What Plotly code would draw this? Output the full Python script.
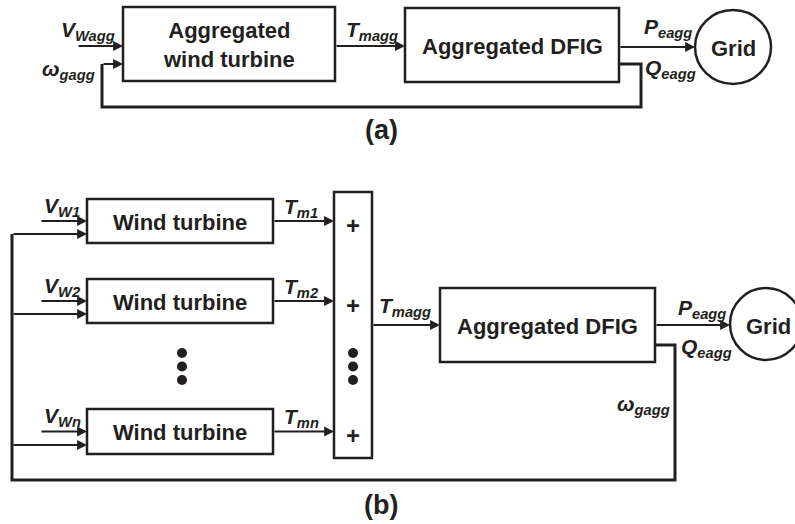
import plotly.graph_objects as go

# ---------------- content (text / data) ----------------
block_a_labels = ["Aggregated<br>wind turbine", "Aggregated DFIG"]
turbine_labels = ["Wind turbine", "Wind turbine", "Wind turbine"]
wind_inputs = ["W1", "W2", "Wn"]
torque_outputs = ["m1", "m2", "mn"]
sum_signs = ["+", "+", "+"]
grid_label = "Grid"
panel_labels = ["(a)", "(b)"]
dot_count = 3

# ---------------- geometry (pixel coordinates of the page) ----------------
W, H = 795, 524
FONT = "Liberation Sans, Arial, sans-serif"
BLACK = "#231f20"

# panel (a)
a_wt = (123, 7, 335, 81)
a_dfig = (405, 8, 619, 82)
a_grid = (695, 10, 771, 84)
a_y_in1, a_y_in2 = 46, 64
a_fb_y, a_fb_x_left, a_fb_x_right = 107, 102, 641

# panel (b)
b_wt_x = (87, 273)
b_wt_y = [(199, 243), (279, 323), (409, 454)]
b_sum = (334, 192, 372, 458)
b_dfig = (440, 288, 655, 362)
b_grid = (730, 288, 802, 360)
b_fb_x_left, b_fb_x_right, b_fb_y = 12, 675, 480
b_out_y, b_q_y = 325, 345
b_dot_y = [353, 366.5, 380]
b_dot_x = [182, 353]

shapes = []
annotations = []


def rect(b, w=2.5):
    shapes.append(dict(type="rect", xref="x", yref="y", x0=b[0], y0=b[1], x1=b[2], y1=b[3],
                       line=dict(color=BLACK, width=w), fillcolor="rgba(0,0,0,0)"))


def circle(b, w=2.5):
    shapes.append(dict(type="circle", xref="x", yref="y", x0=b[0], y0=b[1], x1=b[2], y1=b[3],
                       line=dict(color=BLACK, width=w)))


def path(pts, w=3):
    d = "M " + " L ".join(f"{x},{y}" for x, y in pts)
    shapes.append(dict(type="path", xref="x", yref="y", path=d, line=dict(color=BLACK, width=w)))


def arrow(x0, y0, x1, y1, w=1.8):
    annotations.append(dict(x=x1, y=y1, ax=x0, ay=y0, xref="x", yref="y", axref="x", ayref="y",
                            text="", showarrow=True, arrowhead=2, arrowsize=1.1, arrowwidth=w,
                            arrowcolor=BLACK, standoff=0, startstandoff=0))


def text(x, y, t, size=22, bold=True, italic=False):
    s = t
    if italic:
        s = f"<i>{s}</i>"
    if bold:
        s = f"<b>{s}</b>"
    annotations.append(dict(x=x, y=y, xref="x", yref="y", text=s, showarrow=False,
                            xanchor="center", yanchor="middle",
                            font=dict(family=FONT, size=size, color=BLACK)))


def var(x, y, main, sub, size=21):
    text(x, y, f"{main}<sub>{sub}</sub>", size=size, bold=True, italic=True)


# ---------- panel (a) ----------
rect(a_wt)
rect(a_dfig)
circle(a_grid)
text((a_wt[0] + a_wt[2]) / 2, (a_wt[1] + a_wt[3]) / 2 + 1, block_a_labels[0])
text((a_dfig[0] + a_dfig[2]) / 2, (a_dfig[1] + a_dfig[3]) / 2 + 1, block_a_labels[1])
text((a_grid[0] + a_grid[2]) / 2, (a_grid[1] + a_grid[3]) / 2 + 1, grid_label)
arrow(77, a_y_in1, a_wt[0], a_y_in1)
arrow(a_fb_x_left, a_y_in2, a_wt[0], a_y_in2)
arrow(a_wt[2], a_y_in1, a_dfig[0], a_y_in1)
arrow(a_dfig[2], 47, a_grid[0], 47)
path([(a_dfig[2], a_y_in2), (a_fb_x_right, a_y_in2), (a_fb_x_right, a_fb_y),
      (a_fb_x_left, a_fb_y), (a_fb_x_left, a_y_in2)])
var(88, 31, "V", "Wagg")
var(68, 70, "ω", "gagg")
var(372, 31, "T", "magg")
var(668, 28, "P", "eagg")
var(670, 69, "Q", "eagg")
text(381, 130, panel_labels[0], size=27)

# ---------- panel (b) ----------
for i, (y0, y1) in enumerate(b_wt_y):
    rect((b_wt_x[0], y0, b_wt_x[1], y1))
    text((b_wt_x[0] + b_wt_x[1]) / 2, (y0 + y1) / 2 + 1, turbine_labels[i])
    yin = y0 + 0.5 * (y1 - y0)
    yfb = y1 - 9
    arrow(40, yin, b_wt_x[0], yin)
    arrow(b_fb_x_left, yfb, b_wt_x[0], yfb)
    arrow(b_wt_x[1], yin, b_sum[0], yin)
    var(62, y0 + 8, "V", wind_inputs[i])
    var(301, y0 + 9, "T", torque_outputs[i])
    text((b_sum[0] + b_sum[2]) / 2, yin + 4, sum_signs[i], size=24)

rect(b_sum)
rect(b_dfig)
circle(b_grid)
text((b_dfig[0] + b_dfig[2]) / 2, (b_dfig[1] + b_dfig[3]) / 2 + 1, block_a_labels[1])
text(768, b_out_y + 1, grid_label)
arrow(b_sum[2], b_out_y, b_dfig[0], b_out_y)
arrow(b_dfig[2], b_out_y, b_grid[0], b_out_y)
path([(b_dfig[2], b_q_y), (b_fb_x_right, b_q_y), (b_fb_x_right, b_fb_y),
      (b_fb_x_left, b_fb_y), (b_fb_x_left, b_wt_y[0][1] - 9)])
var(405, 307, "T", "magg")
var(702, 309, "P", "eagg")
var(706, 348, "Q", "eagg")
var(643, 405, "ω", "gagg")
text(381, 505, panel_labels[1], size=27)

fig = go.Figure()
for dx in b_dot_x:
    fig.add_trace(go.Scatter(x=[dx] * dot_count, y=b_dot_y, mode="markers",
                             marker=dict(color=BLACK, size=10), hoverinfo="skip", showlegend=False))

fig.update_layout(
    width=W, height=H, margin=dict(l=0, r=0, t=0, b=0),
    plot_bgcolor="white", paper_bgcolor="white",
    shapes=shapes, annotations=annotations, showlegend=False,
    xaxis=dict(range=[0, W], visible=False, fixedrange=True),
    yaxis=dict(range=[H, 0], visible=False, fixedrange=True),
)
fig.write_html("out.html", config={"displayModeBar": False, "staticPlot": True},
               post_script="document.body.style.margin='0';document.body.style.overflow='hidden';")
